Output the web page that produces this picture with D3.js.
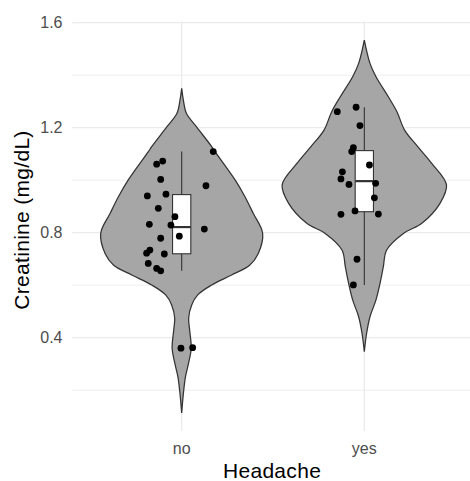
<!DOCTYPE html>
<html>
<head>
<meta charset="utf-8">
<script src="https://cdn.jsdelivr.net/npm/d3@7"></script>
<style>
  body { margin: 0; background: #fff; }
  svg { display: block; font-family: Arial, "Liberation Sans", sans-serif; }
</style>
</head>
<body>
<div id="chart"></div>
<script>
// data
const categories = ["no", "yes"];
const noValues = [1.109, 1.073, 1.061, 1.003, 0.979, 0.940, 0.947, 0.893, 0.861, 0.832, 0.829,
  0.814, 0.787, 0.779, 0.734, 0.722, 0.719, 0.683, 0.664, 0.655, 0.360, 0.362];
const noJitter = [0.173, -0.104, -0.137, -0.115, 0.133, -0.188, -0.086, -0.128, -0.037, -0.177, -0.059,
  0.124, -0.013, -0.115, -0.174, -0.192, -0.095, -0.183, -0.137, -0.115, -0.004, 0.060];
const yesValues = [1.261, 1.278, 1.208, 1.124, 1.109, 1.058, 1.032, 1.005, 0.984, 0.988, 0.933,
  0.870, 0.883, 0.871, 0.699, 0.601];
const yesJitter = [-0.148, -0.045, -0.024, -0.060, -0.069, 0.028, -0.120, -0.128, -0.084, 0.062, 0.055,
  -0.128, -0.051, 0.077, -0.040, -0.060];

// violin outlines: creatinine level and relative density (1 = widest)
const noViolinLevel = [1.350, 1.306, 1.255, 1.204, 1.128, 1.109, 1.001, 0.937, 0.874, 0.798, 0.721,
  0.676, 0.639, 0.601, 0.563, 0.525, 0.475, 0.429, 0.360, 0.302, 0.251, 0.188, 0.113];
const noViolinDensity = [0, 0.02, 0.057, 0.179, 0.365, 0.405, 0.65, 0.77, 0.87, 0.985, 0.932,
  0.827, 0.608, 0.365, 0.195, 0.122, 0.085, 0.097, 0.116, 0.083, 0.046, 0.021, 0];
const yesViolinLevel = [1.534, 1.445, 1.394, 1.318, 1.261, 1.191, 1.128, 1.064, 0.982, 0.912, 0.836,
  0.798, 0.734, 0.670, 0.607, 0.544, 0.480, 0.417, 0.347];
const yesViolinDensity = [0, 0.069, 0.142, 0.292, 0.397, 0.49, 0.65, 0.82, 1.0, 0.921, 0.70,
  0.48, 0.272, 0.231, 0.191, 0.142, 0.069, 0.028, 0];

const yTicks = [0.4, 0.8, 1.2, 1.6];
const yMinor = [0.2, 0.6, 1.0, 1.4];

const width = 470;
const height = 481;
const panelLeft = 72.1, panelRight = 473.9, panelTop = 21.4, panelBottom = 430.9;

const groups = [
  { key: "no", values: noValues, jitter: noJitter,
    violin: noViolinLevel.map((v, i) => [v, noViolinDensity[i]]) },
  { key: "yes", values: yesValues, jitter: yesJitter,
    violin: yesViolinLevel.map((v, i) => [v, yesViolinDensity[i]]) }
];

const svg = d3.select('#chart')
  .append('svg')
  .attr('width', width)
  .attr('height', height);

const xScale = d3.scalePoint()
  .domain(categories)
  .range([panelLeft, panelRight])
  .padding(0.6);
const unit = xScale.step();

const yScale = d3.scaleLinear()
  .domain([0.045, 1.605])
  .range([panelBottom, panelTop]);

groups.forEach(g => {
  const s = g.values.slice().sort(d3.ascending);
  g.q1 = d3.quantileSorted(s, 0.25);
  g.med = d3.quantileSorted(s, 0.5);
  g.q3 = d3.quantileSorted(s, 0.75);
  const iqr = g.q3 - g.q1;
  g.wLo = d3.min(s.filter(d => d >= g.q1 - 1.5 * iqr));
  g.wHi = d3.max(s.filter(d => d <= g.q3 + 1.5 * iqr));
});

// grid
const grid = svg.append('g');
grid.selectAll('.minor')
  .data(yMinor)
  .join('line')
  .attr('x1', panelLeft).attr('x2', width)
  .attr('y1', d => yScale(d)).attr('y2', d => yScale(d))
  .attr('stroke', '#ebebeb').attr('stroke-width', 0.9);
grid.selectAll('.major')
  .data(yTicks)
  .join('line')
  .attr('x1', panelLeft).attr('x2', width)
  .attr('y1', d => yScale(d)).attr('y2', d => yScale(d))
  .attr('stroke', '#ebebeb').attr('stroke-width', 1.3);
grid.selectAll('.vert')
  .data(categories)
  .join('line')
  .attr('x1', d => xScale(d)).attr('x2', d => xScale(d))
  .attr('y1', panelTop).attr('y2', panelBottom)
  .attr('stroke', '#ebebeb').attr('stroke-width', 1.3);

// violins
const area = d3.area()
  .y(d => yScale(d[0]))
  .curve(d3.curveCatmullRom.alpha(0.5));

svg.selectAll('.violin')
  .data(groups)
  .join('path')
  .attr('d', g => area
    .x0(d => xScale(g.key) - 0.45 * unit * d[1])
    .x1(d => xScale(g.key) + 0.45 * unit * d[1])(g.violin))
  .attr('fill', '#a6a6a6')
  .attr('stroke', '#333')
  .attr('stroke-width', 1.25);

// boxplots
const boxW = 0.1 * unit;
const box = svg.selectAll('.box')
  .data(groups)
  .join('g');
box.append('line')
  .attr('x1', g => xScale(g.key)).attr('x2', g => xScale(g.key))
  .attr('y1', g => yScale(g.wHi)).attr('y2', g => yScale(g.q3))
  .attr('stroke', '#333').attr('stroke-width', 1.1);
box.append('line')
  .attr('x1', g => xScale(g.key)).attr('x2', g => xScale(g.key))
  .attr('y1', g => yScale(g.q1)).attr('y2', g => yScale(g.wLo))
  .attr('stroke', '#333').attr('stroke-width', 1.1);
box.append('rect')
  .attr('x', g => xScale(g.key) - boxW / 2)
  .attr('width', boxW)
  .attr('y', g => yScale(g.q3))
  .attr('height', g => yScale(g.q1) - yScale(g.q3))
  .attr('fill', '#fff')
  .attr('stroke', '#333').attr('stroke-width', 1.1);
box.append('line')
  .attr('x1', g => xScale(g.key) - boxW / 2).attr('x2', g => xScale(g.key) + boxW / 2)
  .attr('y1', g => yScale(g.med)).attr('y2', g => yScale(g.med))
  .attr('stroke', '#333').attr('stroke-width', 2.2);

// jittered points
const points = groups.flatMap(g => g.values.map((v, i) => ({ key: g.key, v, j: g.jitter[i] })));
svg.selectAll('.pt')
  .data(points)
  .join('circle')
  .attr('cx', d => xScale(d.key) + d.j * unit)
  .attr('cy', d => yScale(d.v))
  .attr('r', 3.4)
  .attr('fill', '#000');

// axes labels
svg.selectAll('.ylab')
  .data(yTicks)
  .join('text')
  .attr('x', 62.5)
  .attr('y', d => yScale(d))
  .attr('dy', '0.36em')
  .attr('text-anchor', 'end')
  .attr('font-size', 16)
  .attr('fill', '#4d4d4d')
  .text(d => d3.format('.1f')(d));

svg.selectAll('.xlab')
  .data(categories)
  .join('text')
  .attr('x', d => xScale(d))
  .attr('y', 454)
  .attr('text-anchor', 'middle')
  .attr('font-size', 16)
  .attr('fill', '#4d4d4d')
  .text(d => d);

svg.append('text')
  .attr('x', (panelLeft + width) / 2 + 1)
  .attr('y', 478)
  .attr('text-anchor', 'middle')
  .attr('font-size', 21)
  .attr('letter-spacing', 0.3)
  .attr('fill', '#000')
  .text('Headache');

svg.append('text')
  .attr('transform', 'translate(29, 220) rotate(-90)')
  .attr('text-anchor', 'middle')
  .attr('font-size', 21)
  .attr('letter-spacing', 0.3)
  .attr('fill', '#000')
  .text('Creatinine (mg/dL)');
</script>
</body>
</html>
